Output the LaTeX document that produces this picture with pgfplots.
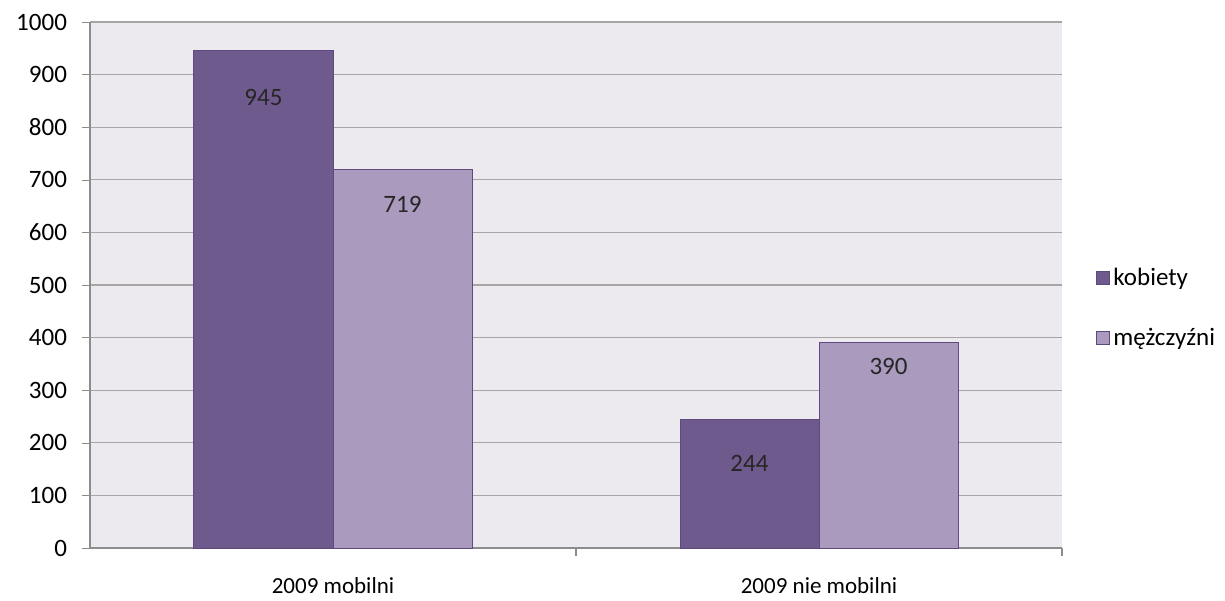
\documentclass[border=0pt]{standalone}
\usepackage{fontspec}
\setmainfont{Carlito}
\usepackage{pgfplots}
\pgfplotsset{compat=1.18}

\definecolor{kob}{HTML}{6F5A8E}
\definecolor{mez}{HTML}{A99ABE}
\definecolor{edgec}{HTML}{5E4A7E}
\definecolor{bg}{HTML}{ECE9EF}
\definecolor{gridc}{HTML}{A6A6A6}
\definecolor{axisc}{HTML}{8C8C8C}

\begin{document}
\begin{tikzpicture}
\begin{axis}[
    scale only axis,
    width=486pt, height=263pt,
    font=\fontsize{12.5}{15}\selectfont,
    /pgf/number format/assume math mode=true,
    /pgf/number format/1000 sep={},
    xmin=-0.5, xmax=1.5,
    ymin=0, ymax=1000,
    ytick={0,100,...,1000},
    xtick={0,1},
    xticklabels={2009 mobilni, 2009 nie mobilni},
    major x tick style={draw=none},
    xticklabel style={yshift=-7pt, font=\fontsize{11.5}{14}\selectfont},
    yticklabel style={xshift=-4pt},
    ytick style={draw=axisc},
    major tick length=4pt,
    tick align=outside,
    axis x line*=bottom,
    axis y line*=left,
    axis line style={axisc, line width=0.6pt},
    ymajorgrids,
    grid style={gridc, line width=0.6pt},
    axis background/.style={fill=bg},
    clip=false,
    ybar=0pt,
    bar width=69.5pt,
    nodes near coords,
    visualization depends on={\thisrow{off} \as \off},
    every node near coord/.append style={anchor=center, yshift=-\off pt, font=\fontsize{12.5}{15}\selectfont, text=black!85},
    legend style={draw=none, fill=none, at={(1.028,0.456)}, anchor=west,
        row sep=16pt, font=\fontsize{12.5}{15}\selectfont,
        /tikz/every even column/.append style={column sep=0pt}},
    legend cell align=left,
    legend image code/.code={\draw[#1, line width=0.4pt] (0pt,-3.25pt) rectangle (6.5pt,3.25pt);},
]
\addplot[fill=kob, draw=edgec, line width=0.5pt] table[x=x, y=y] {
x y off
0 945 23.5
1 244 22
};
\addlegendentry{kobiety}
\addplot[fill=mez, draw=edgec, line width=0.5pt] table[x=x, y=y] {
x y off
0 719 17.5
1 390 12
};
\addlegendentry{mężczyźni}
% category separators below the x axis
\draw[axisc, line width=0.6pt] (axis cs:0.5,0) -- ++(0pt,-4pt);
\draw[axisc, line width=0.6pt] (axis cs:1.5,0) -- ++(0pt,-4pt);
\end{axis}
\pgfresetboundingbox
\path ([xshift=-45pt,yshift=-26pt]current axis.south west) rectangle ([xshift=81.5pt,yshift=11pt]current axis.north east);
\end{tikzpicture}
\end{document}
